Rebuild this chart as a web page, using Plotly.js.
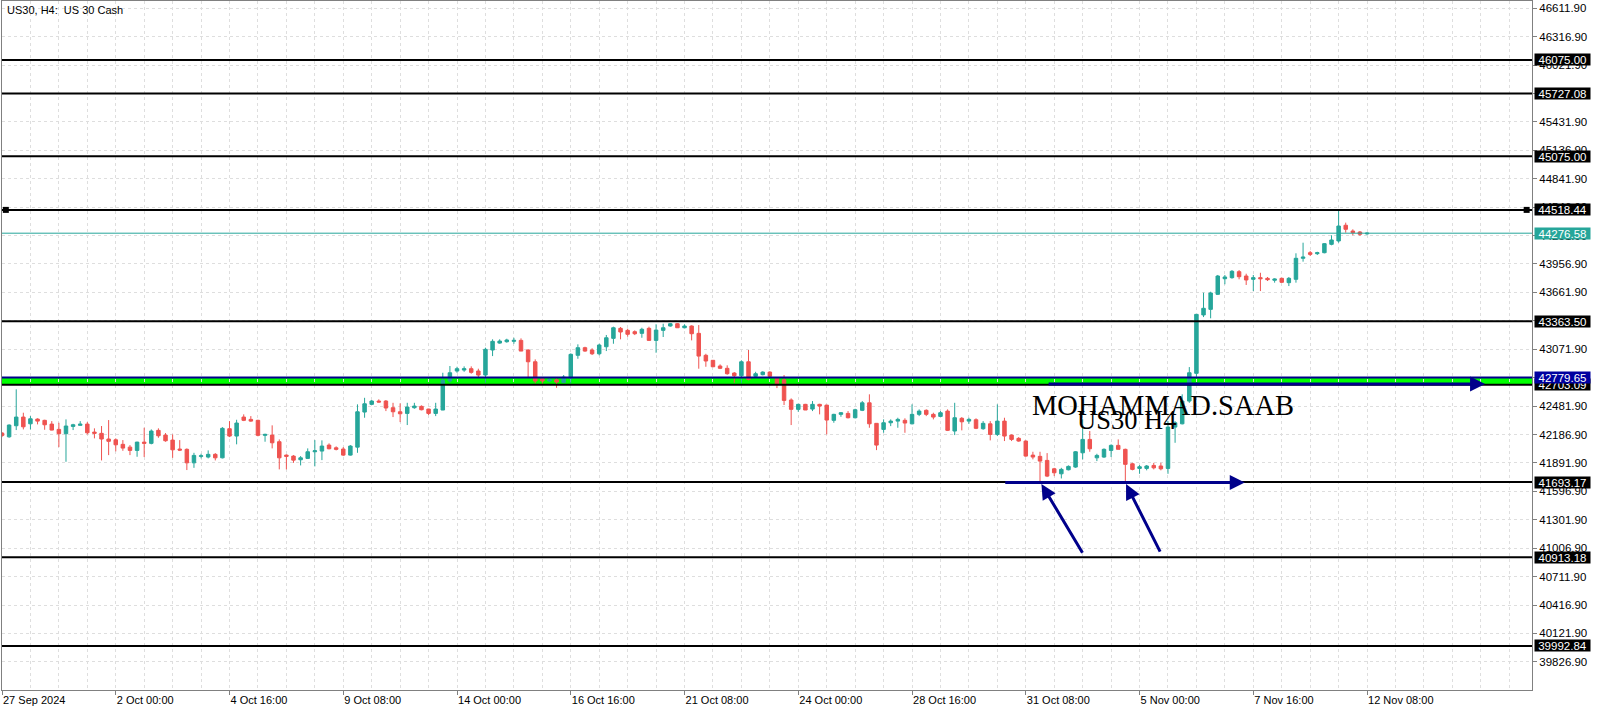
<!DOCTYPE html>
<html><head><meta charset="utf-8">
<script src="https://cdn.plot.ly/plotly-3.0.1.min.js"></script>
<style>html,body{margin:0;padding:0;background:#fff;} #chart{width:1600px;height:711px;}</style>
</head><body><div id="chart"></div>
<script>
// ---- data (US30 H4, 27 Sep 2024 08:00 .. 12 Nov 08:00, one entry per H4 bar) ----
const opens = [
42202,42163,42278,42368,42298,42347,42334,42295,42240,42195,
42271,42282,42295,42212,42199,42140,42132,42085,42056,42022,
42108,42095,42230,42181,42129,42036,42033,41893,41960,41953,
41981,41945,42247,42171,42368,42344,42334,42178,42181,42112,
41973,41963,41925,41939,42008,42015,42077,42049,42036,41973,
42056,42420,42500,42534,42534,42465,42423,42406,42465,42479,
42451,42406,42441,42742,42846,42856,42870,42846,42804,43064,
43136,43150,43154,43164,43064,42942,42766,42742,42755,42728,
42770,43009,43088,43064,43025,43098,43185,43289,43268,43254,
43237,43289,43164,43268,43313,43337,43295,43313,43237,43009,
42957,42898,42874,42825,42797,42942,42791,42808,42835,42770,
42755,42545,42448,42500,42451,42500,42492,42334,42396,42406,
42361,42438,42516,42303,42240,42309,42326,42334,42298,42396,
42438,42396,42375,42430,42223,42355,42326,42340,42247,42298,
42188,42326,42181,42147,42119,41973,41960,41918,41831,41779,
41821,41849,41997,42136,41945,41953,42022,42074,42033,41883,
41835,41835,41866,41860,41835,42264,42298,42534,42822,43428,
43486,43642,43804,43815,43877,43832,43798,43815,43808,43788,
43808,43763,43798,44016,44074,44064,44074,44161,44196,44359,
44299,44289,44270
];
const highs = [
42212,42292,42656,42413,42378,42355,42340,42326,42309,42344,
42298,42326,42316,42251,42275,42337,42147,42129,42077,42112,
42257,42240,42251,42202,42188,42129,42043,41997,41987,42022,
41994,42264,42326,42340,42396,42378,42340,42195,42282,42136,
41981,41973,41963,42043,42129,42126,42095,42064,42056,42077,
42500,42568,42545,42552,42545,42516,42510,42516,42516,42489,
42454,42516,42828,42898,42890,42894,42894,42870,43088,43175,
43175,43181,43191,43185,43071,42967,42776,42776,42770,42804,
43029,43123,43098,43082,43129,43220,43306,43303,43285,43268,
43295,43306,43331,43337,43344,43344,43331,43320,43323,43025,
42960,42915,42905,42835,42957,43064,42838,42843,42843,42783,
42804,42562,42506,42505,42534,42506,42495,42402,42420,42430,
42454,42534,42604,42305,42344,42344,42361,42355,42500,42448,
42448,42413,42430,42448,42516,42368,42361,42355,42326,42326,
42500,42361,42188,42160,42126,42008,42008,41994,41841,41841,
41866,42015,42344,42223,41987,42043,42085,42136,42040,41893,
41870,41870,41893,41893,42326,42326,42604,42887,43434,43659,
43669,43843,43843,43894,43894,43856,43843,43866,43822,43808,
43815,43822,44068,44178,44092,44084,44172,44255,44518,44386,
44317,44299,44285
];
const lows = [
42160,42153,42233,42240,42240,42292,42236,42230,42056,41904,
42233,42280,42188,42147,41918,41973,42012,42018,41973,41956,
41953,42085,42153,42112,41945,42015,41818,41841,41939,41939,
41918,41939,42160,42085,42326,42319,42168,42112,42043,41825,
41825,41893,41866,41935,41856,41921,42033,42022,41963,41968,
41997,42361,42493,42520,42430,42368,42316,42285,42454,42438,
42389,42378,42440,42724,42828,42838,42818,42783,42724,43001,
43129,43140,43129,43053,42776,42718,42714,42731,42672,42721,
42714,42973,43046,43012,43009,43053,43129,43175,43202,43219,
43191,43164,43036,43199,43306,43295,43289,43164,42870,42890,
42887,42866,42808,42724,42718,42749,42783,42801,42783,42669,
42493,42285,42423,42441,42430,42396,42188,42309,42371,42354,
42354,42430,42257,42025,42205,42274,42257,42205,42292,42378,
42378,42344,42368,42223,42181,42230,42298,42243,42236,42126,
42171,42119,42119,42112,41956,41929,41695,41745,41755,41731,
41815,41841,41929,42008,41911,41945,41953,42033,41695,41815,
41779,41815,41825,41815,41779,42101,42292,42516,42786,43406,
43393,43635,43746,43804,43798,43739,43676,43676,43780,43763,
43760,43728,43763,43981,44040,44050,44068,44151,44178,44282,
44255,44248,44260
];
const closes = [
42176,42285,42368,42267,42350,42326,42288,42233,42195,42275,
42288,42295,42205,42199,42140,42116,42080,42046,42022,42108,
42095,42223,42174,42122,42028,42025,41893,41970,41966,41981,
41945,42251,42171,42306,42334,42326,42178,42188,42101,41945,
41960,41921,41945,42008,42018,42067,42039,42033,41973,42067,
42423,42506,42534,42524,42462,42423,42402,42472,42482,42444,
42406,42451,42749,42828,42870,42870,42832,42804,43071,43154,
43157,43168,43164,43053,42942,42742,42742,42759,42731,42783,
43019,43088,43053,43025,43116,43191,43295,43251,43227,43233,
43279,43164,43271,43295,43337,43295,43313,43233,43001,42950,
42890,42874,42818,42797,42942,42759,42818,42835,42791,42708,
42541,42448,42500,42441,42500,42482,42337,42396,42413,42361,
42444,42516,42298,42077,42309,42326,42344,42306,42396,42430,
42396,42368,42413,42230,42361,42319,42344,42251,42303,42188,
42326,42171,42136,42119,41963,41953,41911,41755,41790,41825,
41856,42008,42136,42039,41970,42033,42074,42033,41877,41825,
41852,41860,41841,41831,42264,42309,42534,42828,43434,43497,
43656,43832,43822,43881,43825,43791,43815,43804,43794,43801,
43767,43808,44016,44029,44057,44074,44168,44206,44351,44317,
44282,44265,44276.58
];
// bar number of each time-axis label
const tickBars = [0,16,32,48,64,80,96,112,128,144,160,176,192];
const tickLabels = ["27 Sep 2024","2 Oct 00:00","4 Oct 16:00","9 Oct 08:00","14 Oct 00:00","16 Oct 16:00",
  "21 Oct 08:00","24 Oct 00:00","28 Oct 16:00","31 Oct 08:00","5 Nov 00:00","7 Nov 16:00","12 Nov 08:00"];
// horizontal levels drawn on the chart
const levelPrices = [46075.00,45727.08,45075.00,44518.44,43363.50,42703.09,41693.17,40913.18,39992.84];
const zoneTop = 42779.65;
const zoneBottom = 42703.09;
const lastPrice = 44276.58;
const selectedLevel = 44518.44;

// ---- drawing ----
const barIndex = opens.map((_, i) => i);
const UP = '#26a69a', DOWN = '#ef5350', NAVY = '#00008b';
const FONT = 'Liberation Sans, Arial, sans-serif';
const SERIF = 'Liberation Serif, Times New Roman, serif';

const trace = {
  type: 'candlestick', x: barIndex, open: opens, high: highs, low: lows, close: closes,
  increasing: {line: {color: UP, width: 1}, fillcolor: UP},
  decreasing: {line: {color: DOWN, width: 1}, fillcolor: DOWN},
  whiskerwidth: 0, hoverinfo: 'none', showlegend: false
};

const shapes = [];
shapes.push({type:'rect', xref:'paper', x0:0, x1:1, yref:'y', y0:zoneBottom, y1:zoneTop,
  fillcolor:'#00ff00', line:{width:0}, layer:'below'});
levelPrices.forEach(p => shapes.push({type:'line', xref:'paper', x0:0, x1:1, yref:'y', y0:p, y1:p,
  line:{color:'#000', width:2}, layer:'above'}));
shapes.push({type:'line', xref:'paper', x0:0, x1:1, yref:'y', y0:zoneTop, y1:zoneTop,
  line:{color:NAVY, width:2}, layer:'above'});
shapes.push({type:'line', xref:'paper', x0:0, x1:1, yref:'y', y0:lastPrice, y1:lastPrice,
  line:{color:UP, width:1}, layer:'above'});
// selection squares at the ends of the selected level
[0.0025, 0.9965].forEach(xa => shapes.push({type:'rect', xref:'paper', xsizemode:'pixel', xanchor:xa,
  x0:-3, x1:3, yref:'y', ysizemode:'pixel', yanchor:selectedLevel, y0:-3, y1:3,
  fillcolor:'#000', line:{width:0}, layer:'above'}));

const annotations = [];
annotations.push({xref:'paper', yref:'paper', x:0.002, y:0.9985, xanchor:'left', yanchor:'top',
  text:'US30, H4:\u00a0\u00a0US 30 Cash', showarrow:false, font:{family:FONT, size:11, color:'#000'}});

function priceBox(p, bg) {
  annotations.push({xref:'paper', x:1, xanchor:'left', xshift:2, yref:'y', y:p, yanchor:'middle',
    text:p.toFixed(2), showarrow:false, bgcolor:bg, borderpad:0, width:55, height:11, align:'center',
    font:{family:FONT, size:11.5, color:'#fff'}});
}
levelPrices.forEach(p => priceBox(p, '#000'));
priceBox(zoneTop, '#0000a0');
priceBox(lastPrice, UP);

// author texts
annotations.push({xref:'x', yref:'y', x:145.0, y:42492, xanchor:'left', yanchor:'middle', xshift:-3,
  text:'MOHAMMAD.SAAB', showarrow:false, font:{family:SERIF, size:28.5, color:'#000'}});
annotations.push({xref:'x', yref:'y', x:151.4, y:42342, xanchor:'left', yanchor:'middle', xshift:-3,
  text:'US30 H4', showarrow:false, font:{family:SERIF, size:26.5, color:'#000'}});

// arrows (head at x,y ; tail at ax,ay)
function arrow(x, y, ax, ay) {
  annotations.push({xref:'x', yref:'y', axref:'x', ayref:'y', x:x, y:y, ax:ax, ay:ay, text:'',
    showarrow:true, arrowhead:2, arrowsize:1, arrowwidth:3, arrowcolor:NAVY, standoff:0, startstandoff:0});
}
arrow(208.6, 42711, 147.0, 42711);
arrow(174.8, 41690, 140.9, 41690);
arrow(146.2, 41672, 152.1, 40945);
arrow(158.1, 41672, 163.0, 40956);

const layout = {
  width:1600, height:711,
  margin:{l:2, r:68, t:1, b:21, pad:0},
  paper_bgcolor:'#fff', plot_bgcolor:'#fff',
  showlegend:false, dragmode:false,
  xaxis:{
    range:[0, 215.2], showline:true, mirror:true, linecolor:'#808080', linewidth:1,
    tickmode:'array', tickvals:tickBars, ticktext:tickLabels,
    ticks:'outside', ticklen:4, tickcolor:'#808080', ticklabelposition:'outside right',
    tickfont:{family:FONT, size:11, color:'#000'},
    showgrid:false, zeroline:false,
    minor:{tickmode:'linear', tick0:0, dtick:4, showgrid:true, gridcolor:'#dedede', griddash:'3px,3px', ticks:''},
    rangeslider:{visible:false}, fixedrange:true
  },
  yaxis:{
    side:'right', range:[39535, 46686.7], tickmode:'linear', tick0:39826.9, dtick:295, tickformat:'.2f',
    ticks:'outside', ticklen:4, tickcolor:'#808080',
    showgrid:true, gridcolor:'#dedede', griddash:'3px,3px',
    showline:true, mirror:true, linecolor:'#808080', linewidth:1,
    tickfont:{family:FONT, size:11.5, color:'#000'}, zeroline:false, fixedrange:true
  },
  shapes:shapes, annotations:annotations
};

Plotly.newPlot('chart', [trace], layout, {staticPlot:true, displayModeBar:false});
</script>
</body></html>
